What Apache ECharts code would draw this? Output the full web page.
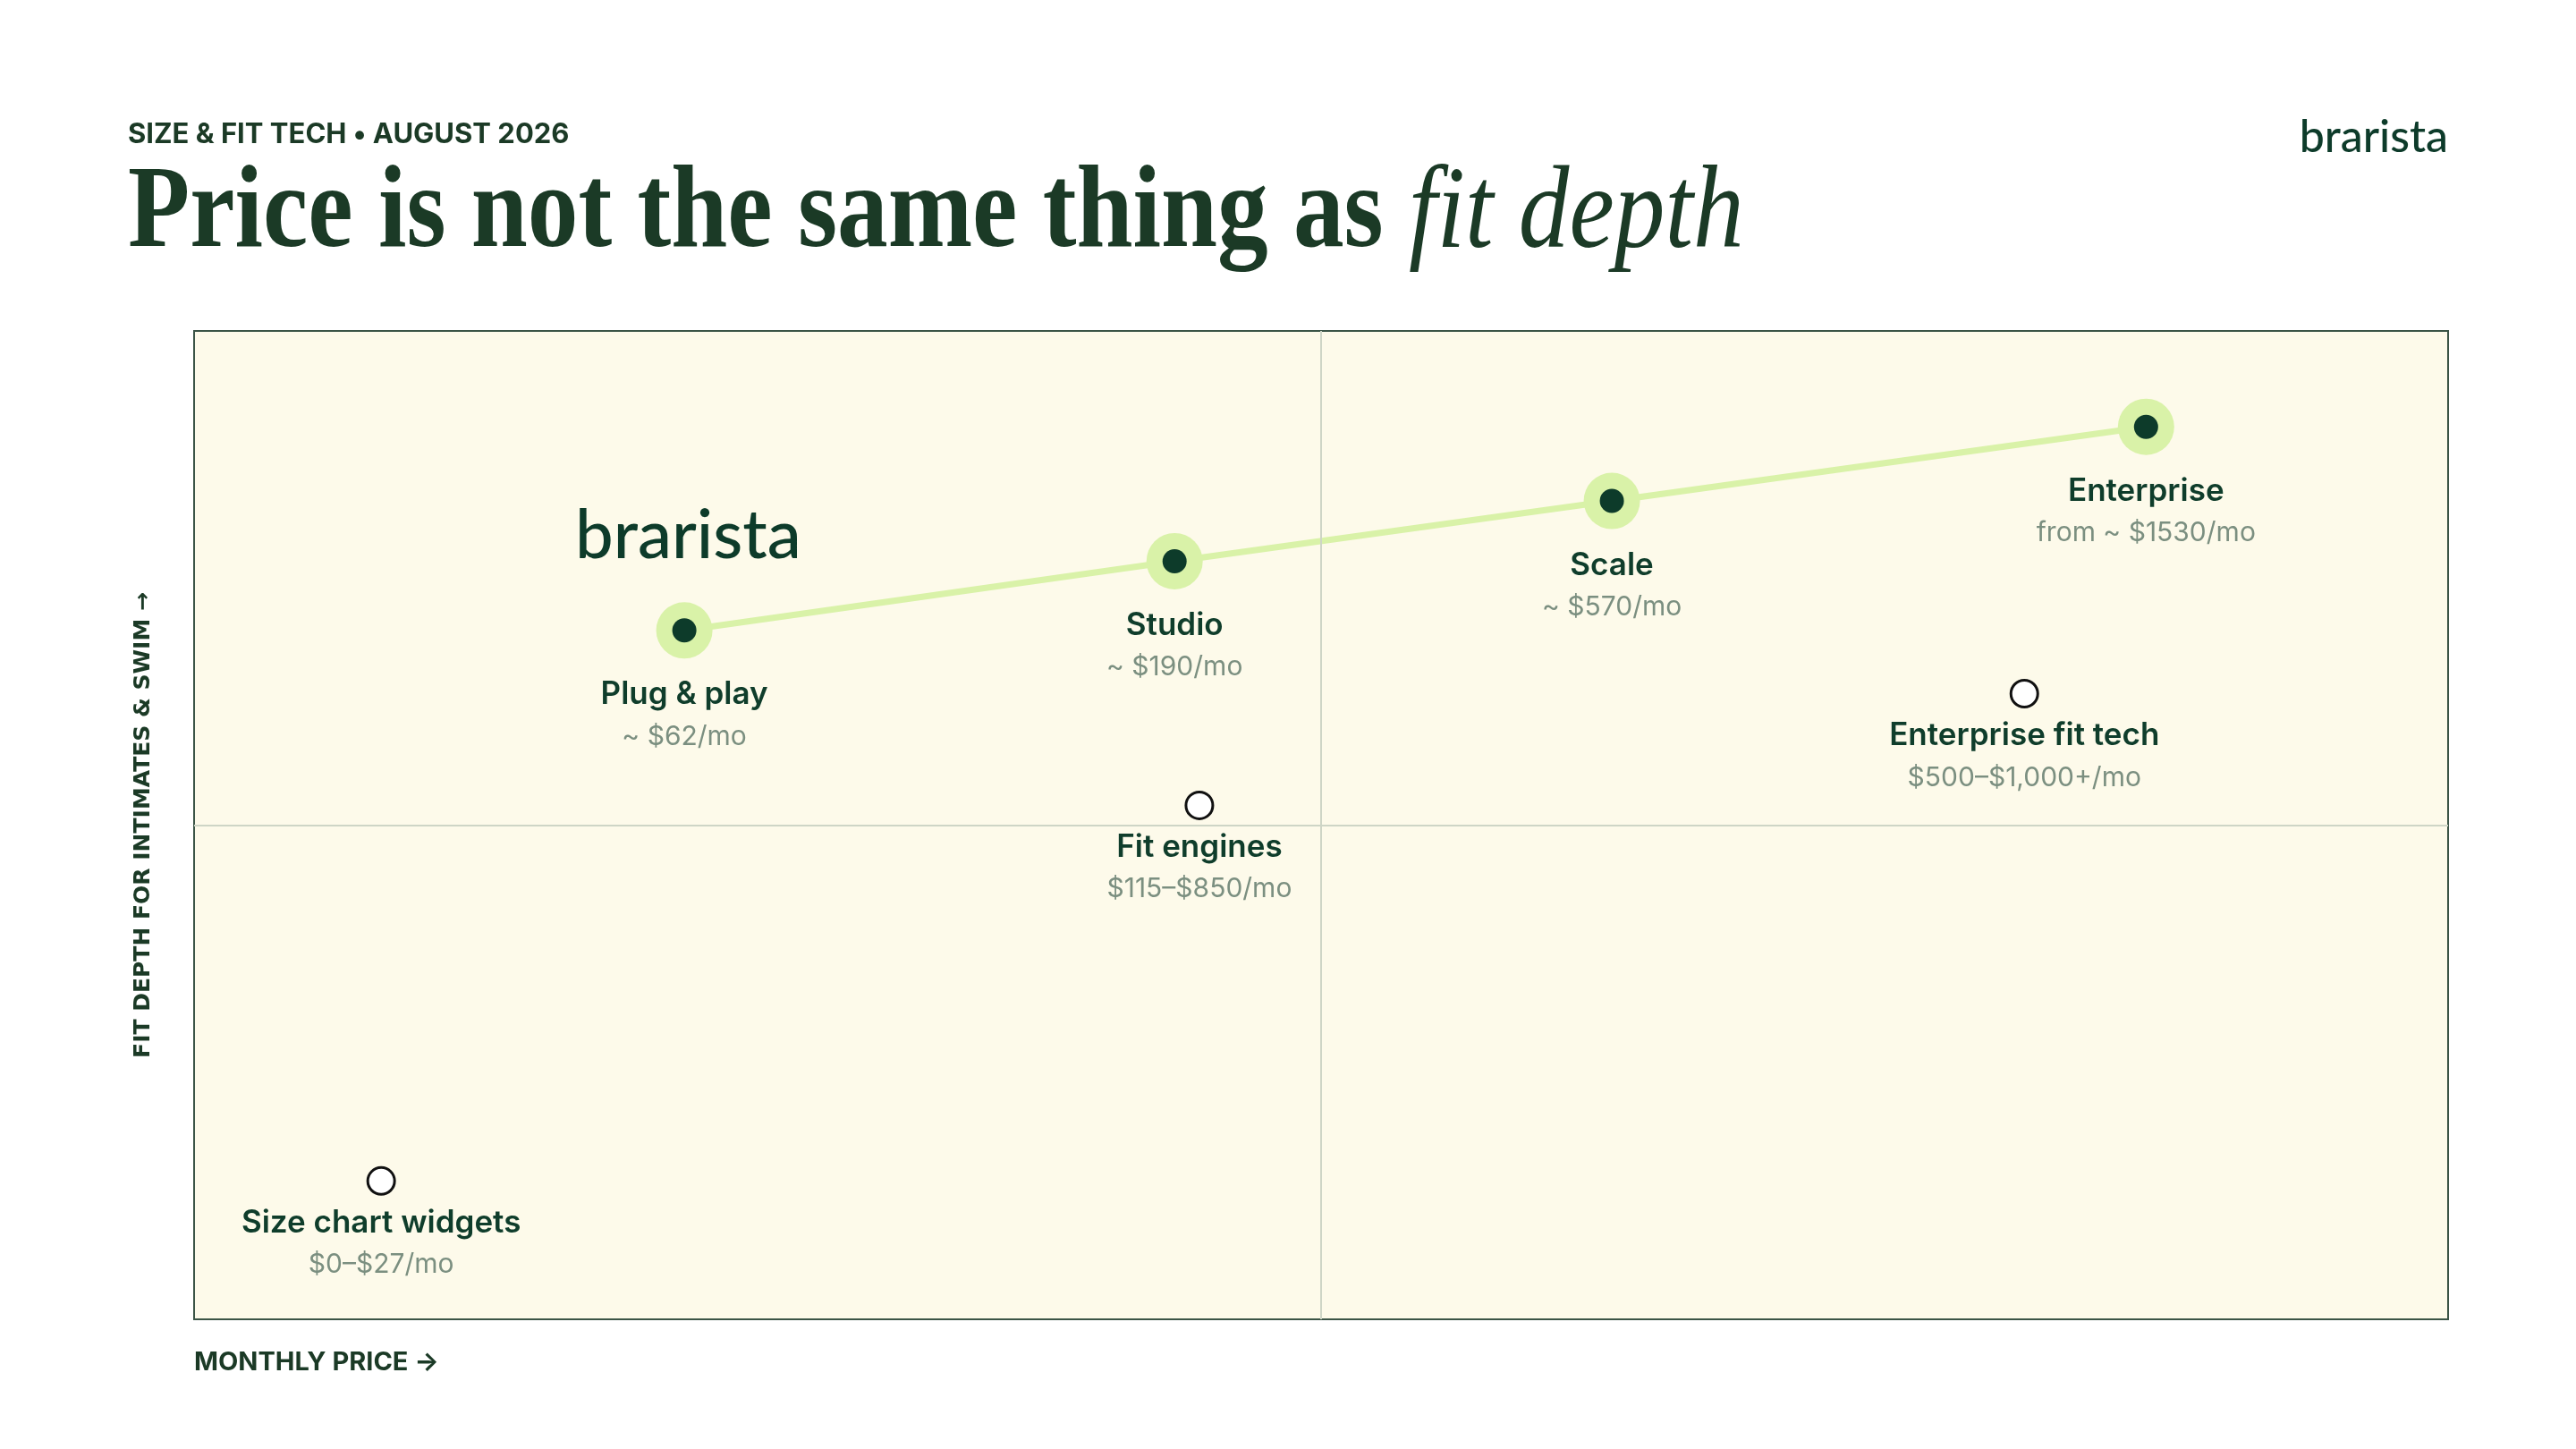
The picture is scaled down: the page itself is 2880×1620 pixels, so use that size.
<!DOCTYPE html>
<html>
<head>
<meta charset="utf-8">
<script src="https://cdn.jsdelivr.net/npm/echarts@6/dist/echarts.min.js"></script>
<style>
html,body{margin:0;padding:0;background:#ffffff;}
#chart{width:2880px;height:1620px;}
</style>
</head>
<body>
<div id="chart"></div>
<script>
// ---- data ----
const braristaTiers = ['Plug & play', 'Studio', 'Scale', 'Enterprise'];
const braristaPrice = [21.75, 43.5, 62.9, 86.6];      // x: monthly price position
const braristaDepth = [69.7, 76.7, 82.8, 90.3];       // y: fit depth
const braristaPriceLabels = ['~ $62/mo', '~ $190/mo', '~ $570/mo', 'from ~ $1530/mo'];

const competitorNames = ['Size chart widgets', 'Fit engines', 'Enterprise fit tech'];
const competitorPrice = [8.3, 44.6, 81.2];
const competitorDepth = [14.0, 52.0, 63.3];
const competitorPriceLabels = ['$0\u2013$27/mo', '$115\u2013$850/mo', '$500\u2013$1,000+/mo'];

const quadrantSplitX = 50;
const quadrantSplitY = 50;

const subtitleText = 'SIZE & FIT TECH \u2022 AUGUST 2026';
const titleMain = 'Price is not the same thing as ';
const titleItalic = 'fit depth';
const brandName = 'brarista';
const xAxisTitle = 'MONTHLY PRICE \u2192';
const yAxisTitle = 'FIT DEPTH FOR INTIMATES & SWIM \u2192';

// ---- styles ----
const DARK = '#0f3d2b';
const MUTED = '#7b8f80';
const LIME = '#d9f2a8';

const chart = echarts.init(document.getElementById('chart'));

const richLabel = {
  n: { fontFamily: 'Inter', fontWeight: 600, fontSize: 35, color: DARK, lineHeight: 47 },
  p: { fontFamily: 'Inter', fontWeight: 400, fontSize: 30, color: MUTED, lineHeight: 47 }
};

const option = {
  animation: false,
  backgroundColor: '#ffffff',
  grid: {
    left: 217, right: 143, top: 370, bottom: 145,
    show: true, backgroundColor: '#fdfaea', borderColor: '#3b5446', borderWidth: 2
  },
  xAxis: {
    type: 'value', min: 0, max: 100,
    axisLine: { show: false }, axisTick: { show: false },
    axisLabel: { show: false }, splitLine: { show: false }
  },
  yAxis: {
    type: 'value', min: 0, max: 100,
    name: yAxisTitle, nameLocation: 'middle', nameRotate: 90, nameGap: 44,
    nameTextStyle: { fontFamily: 'DejaVu Sans', fontWeight: 700, fontSize: 25, color: '#1b3a26' },
    axisLine: { show: false }, axisTick: { show: false },
    axisLabel: { show: false }, splitLine: { show: false }
  },
  graphic: [
    {
      type: 'text', left: 143, top: 135,
      style: { text: subtitleText, font: '700 31px Inter', fill: '#1b3a26' }
    },
    {
      type: 'text', x: 143, y: 176, scaleX: 0.865,
      style: {
        text: '{a|' + titleMain + '}{b|' + titleItalic + '}',
        rich: {
          a: { fontFamily: 'Liberation Serif', fontWeight: 700, fontSize: 131, fill: '#1b3a26' },
          b: { fontFamily: 'Liberation Serif', fontStyle: 'italic', fontWeight: 400, fontSize: 131, fill: '#1b3a26' }
        }
      }
    },
    {
      type: 'text', right: 143, top: 129,
      style: { text: brandName, font: '500 50px Lato', fill: '#0d3b2a' }
    },
    {
      type: 'text', left: 643, top: 561, z: 10,
      style: { text: brandName, font: '500 76px Lato', fill: '#0d3b2a' }
    },
    {
      type: 'text', left: 217, top: 1509,
      style: { text: xAxisTitle, font: '700 29px Inter', fill: '#1b3a26' }
    }
  ],
  series: [
    {
      type: 'line', data: [], silent: true, z: 1,
      markLine: {
        silent: true, symbol: 'none', label: { show: false },
        lineStyle: { color: '#ced5c6', width: 2, type: 'solid' },
        data: [{ xAxis: quadrantSplitX }, { yAxis: quadrantSplitY }]
      }
    },
    {
      name: 'brarista', type: 'line', z: 3,
      data: braristaPrice.map((x, i) => [x, braristaDepth[i]]),
      lineStyle: { color: LIME, width: 7 },
      symbol: 'circle', symbolSize: 63,
      itemStyle: { color: LIME, opacity: 1 },
      label: {
        show: true, position: 'bottom', distance: 17,
        formatter: p => '{n|' + braristaTiers[p.dataIndex] + '}\n{p|' + braristaPriceLabels[p.dataIndex] + '}',
        rich: richLabel
      }
    },
    {
      type: 'scatter', z: 4, silent: true,
      data: braristaPrice.map((x, i) => [x, braristaDepth[i]]),
      symbol: 'circle', symbolSize: 27,
      itemStyle: { color: '#0d3b2a', opacity: 1 }
    },
    {
      name: 'competitors', type: 'scatter', z: 4,
      data: competitorPrice.map((x, i) => [x, competitorDepth[i]]),
      symbol: 'circle', symbolSize: 30,
      itemStyle: { color: '#ffffff', borderColor: '#111111', borderWidth: 3, opacity: 1 },
      label: {
        show: true, position: 'bottom', distance: 7, opacity: 1,
        formatter: p => '{n|' + competitorNames[p.dataIndex] + '}\n{p|' + competitorPriceLabels[p.dataIndex] + '}',
        rich: richLabel
      }
    }
  ]
};
chart.setOption(option);
</script>
</body>
</html>
